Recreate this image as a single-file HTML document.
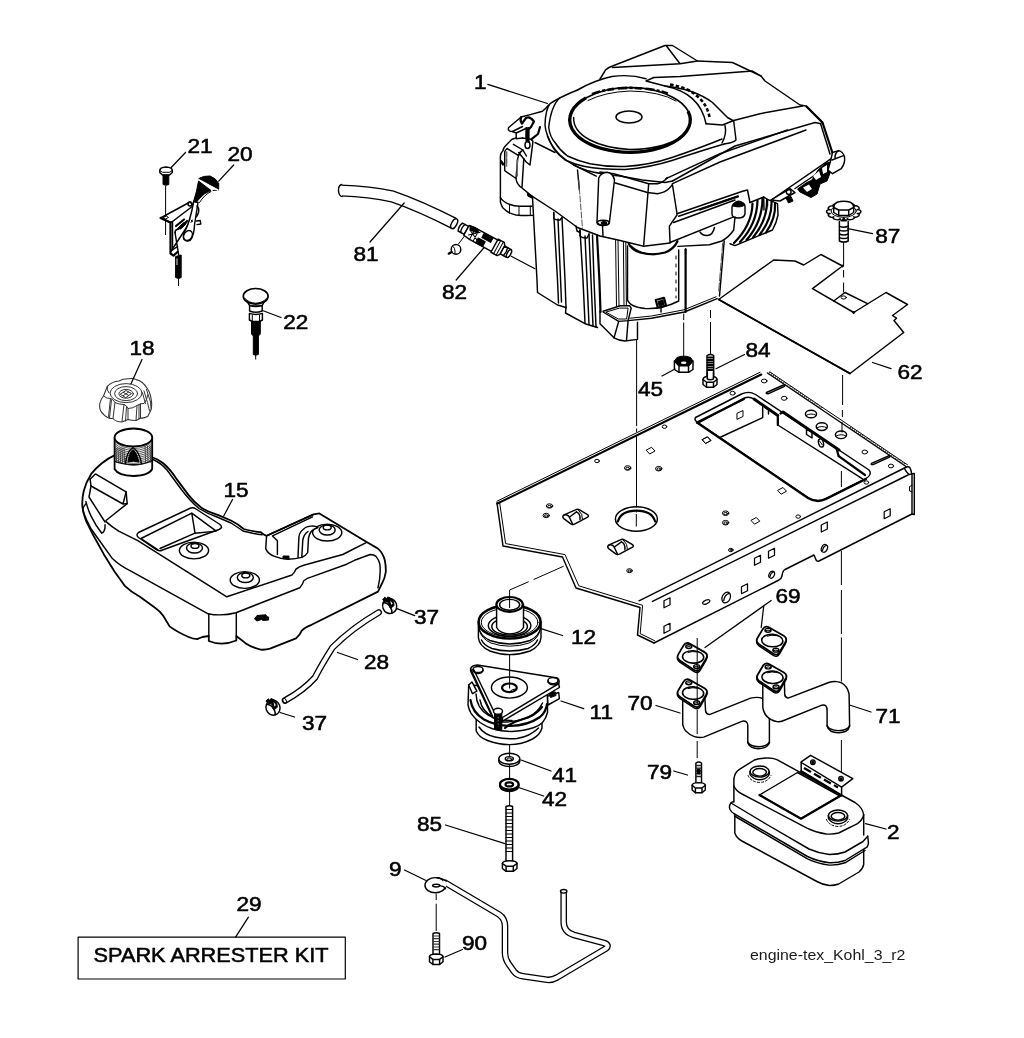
<!DOCTYPE html>
<html lang="en"><head><meta charset="utf-8"><title>Engine parts diagram</title>
<style>
html,body{margin:0;padding:0;background:#fff;}
body{width:1024px;height:1038px;overflow:hidden;font-family:"Liberation Sans",sans-serif;}
svg{display:block;}
.l{fill:none;stroke:#000;stroke-width:1.45;stroke-linejoin:round;stroke-linecap:round;}
.w{fill:#fff;stroke:#000;stroke-width:1.45;stroke-linejoin:round;stroke-linecap:round;}
.k{fill:#000;stroke:#000;stroke-width:1;stroke-linejoin:round;}
.t{stroke-width:2.2;}
.t2{stroke-width:2.9;}
.h{stroke-width:1;}
.d{stroke-dasharray:22 4 6 4;stroke-width:1.1;stroke-linecap:butt;}
.n{font-family:"Liberation Sans",sans-serif;font-size:20px;fill:#000;stroke:#000;stroke-width:0.55;}
</style></head><body>
<svg width="1024" height="1038" viewBox="0 0 1024 1038">
<rect x="0" y="0" width="1024" height="1038" fill="#fff"/>
<!-- 20_plate.svg -->
<g id="plate">
<!-- top face fill -->
<path class="w" style="stroke:none" d="M497 503L761.5 373.5L767.5 373L906.7 467.5L914 474V514L819 561L815 557L785 570L779 580L654 643L637.5 635L640 607.5L576 588L562.5 557L503 546Z"/>
<!-- top-left edge (double) -->
<path class="l t" d="M497.3 503.6L761.2 374.6"/>
<path class="l h" d="M497 501.2L760 372.3"/>
<!-- top-right edge (hatched double) -->
<path class="l" d="M767.5 373L906 466.5"/>
<path class="l h" d="M770 372L907.5 464.8"/>
<path class="l" style="stroke:#333;stroke-width:2;stroke-dasharray:1 1.5;stroke-linecap:butt" d="M769 372.3L822 408"/>
<path class="l" style="stroke:#333;stroke-width:2;stroke-dasharray:1 1.5;stroke-linecap:butt" d="M850 427L906 465"/>
<!-- left outline double -->
<path class="l" d="M497 503L503 546L562.5 557L576 588L640 607.5L637.5 635L654 643"/>
<path class="l h" d="M499.6 502.3L505.6 543.6L565 554.6L578.8 585.8L642.6 605.3L640.2 633.6L654.8 640.8"/>
<!-- front face top edges -->
<path class="l" d="M639 600.8L900.5 470L906.5 467"/>
<path class="l" d="M652.5 601.4L908 475"/>
<!-- front bottom edge -->
<path class="l" d="M654 643L779 580Q781.5 578.5 782 576Q782.5 571 785 569.5L814 555L815.5 558.5Q816.5 562 819 561L912 514"/>
<!-- right end -->
<path class="l" d="M906.5 467Q909.5 466 910.5 469L912 474.5M912 474V514M914.3 473.5V514.5L912 514M912 474L914.3 473.5M904.5 468.5Q906 472 909 474.5L912 474"/>
<path class="l h" d="M912 485.5L909.5 486.5V491L912 491.5"/>
<!-- cutout -->
<path class="w" d="M695.5 417.5Q694 420 697 422L808 497.5Q817 503 826 498.5L866 478.5Q872.5 474.5 869 470L755.5 394.5Q749 390.5 741.5 394Z"/>
<path class="l t" d="M697 422.5L808 498Q817 503.5 826 499L866 479"/>
<path class="l" d="M698 423L744.5 398Q749.5 396.2 754 399L777.8 415.5V425L862.6 478.8"/>
<path class="l" d="M762.7 405.8V417.6L720.8 437"/>
<path class="l t2" d="M754 399L777.8 415.5M783 412L839 450"/>
<path class="l t" d="M777.8 415.5V425M780.5 413.5L783 412"/>
<path class="l t" d="M838.7 456.2L865 475"/>
<path class="l t" d="M836.5 448.5L838.7 456.2"/>
<path class="l t" d="M697 422.5L744 399"/>
<!-- inner wall details -->
<path class="l h" d="M737.3 413.2L743 410.5V416.5L737.3 419.2Z"/>
<path class="l" d="M806.5 429L812 432.5V438L806.5 434.5Z"/>
<path class="l" d="M765 407.5L768.5 410V414"/>
<ellipse class="l" cx="821" cy="443" rx="2.4" ry="4.2" transform="rotate(-15 821 443)"/>
<path class="l h" d="M819.5 441L822.5 445"/>
<!-- slots -->
<path class="l" d="M766.5 392.5L783.5 385Q785.5 384.6 784.5 386.3L768 393.8Q765.5 394 766.5 392.5Z"/>
<path class="l" d="M871.5 463.3L888.5 455.8Q890.5 455.4 889.5 457.1L873 464.6Q870.5 464.8 871.5 463.3Z"/>
<!-- big round holes on right strip -->
<ellipse class="l" cx="811" cy="414" rx="5.6" ry="3.8"/>
<ellipse class="l" cx="821.8" cy="426.6" rx="5.6" ry="3.8"/>
<ellipse class="l" cx="841" cy="434.8" rx="5.6" ry="3.8"/>
<path class="l h" d="M806 415.5Q811 412.5 816 415.2M816.8 428Q821.8 425 826.8 427.8M836 436.2Q841 433.2 846 436"/>
<!-- main hole -->
<ellipse class="l" cx="636.4" cy="519" rx="21" ry="12.2"/>
<path class="l t" d="M617.8 521.5Q621 510.6 636.4 510.6Q652 510.6 655.2 521.5"/>
<!-- small round holes -->
<g class="l h">
<ellipse cx="597" cy="461" rx="2.3" ry="1.7"/>
<ellipse cx="627.7" cy="468" rx="3.2" ry="2.3"/><ellipse cx="627.7" cy="468.4" rx="1.8" ry="1.2"/>
<ellipse cx="658.7" cy="468.7" rx="3.2" ry="2.3"/><ellipse cx="658.7" cy="469.1" rx="1.8" ry="1.2"/>
<ellipse cx="664.5" cy="426.7" rx="2.3" ry="1.7"/>
<ellipse cx="549.5" cy="506" rx="3.2" ry="2.2"/><ellipse cx="549.5" cy="506.4" rx="1.8" ry="1.1"/>
<ellipse cx="546.2" cy="515.5" rx="3.2" ry="2.2"/><ellipse cx="546.2" cy="515.9" rx="1.8" ry="1.1"/>
<ellipse cx="725.6" cy="513.2" rx="3.2" ry="2.3"/><ellipse cx="725.6" cy="513.6" rx="1.8" ry="1.2"/>
<ellipse cx="725.6" cy="522.7" rx="3.2" ry="2.3"/><ellipse cx="725.6" cy="523.1" rx="1.8" ry="1.2"/>
<ellipse cx="730.8" cy="550" rx="2.3" ry="1.7"/>
<ellipse cx="732.6" cy="393.2" rx="2.6" ry="1.9"/>
<ellipse cx="629.5" cy="570.7" rx="2.8" ry="2"/><ellipse cx="629.5" cy="571" rx="1.5" ry="1"/>
<ellipse cx="798.2" cy="516.6" rx="2.3" ry="1.7"/>
<ellipse cx="866.4" cy="482.5" rx="2.3" ry="1.7"/>
<ellipse cx="764.2" cy="381" rx="2.8" ry="1.9"/>
<ellipse cx="784.2" cy="398.3" rx="2.8" ry="2"/>
<ellipse cx="864.8" cy="452" rx="2.8" ry="2"/>
<ellipse cx="891" cy="466" rx="2.6" ry="1.9"/>
<ellipse cx="731" cy="549.8" rx="1" ry="0.7"/>
</g>
<!-- diamond holes on top -->
<g class="l h">
<path d="M646.5 450L651.5 447.3L655 451L650 453.8Z"/>
<path d="M702.5 439.5L707.5 436.8L711 440.5L706 443.3Z"/>
<path d="M778 490.2L783 487.5L786.5 491.2L781.5 494Z"/>
<path d="M751.3 520.2L756.3 517.5L759.8 521.2L754.8 524Z"/>
<path d="M702.2 439.3L707.2 436.6L710.7 440.3L705.7 443.1Z" transform="translate(0.2 0.2)"/>
</g>
<!-- tabs -->
<g class="l">
<path d="M563.5 515.2 Q562.0 517.0 563.8 518.6 L570.8 523.8 Q572.8 525.0 575.0 523.8 L587.6 517.2 Q589.3 516.0 587.6 514.6 L579.5 509.8 Q577.5 508.8 575.5 509.8 Z"/><path d="M564.5 515.0Q567.0 514.0 569.0 516.5L572.8 524.5"/><path d="M569.5 517.0L576.5 511.8M576.5 511.8Q580.5 513.5 580.0 519.5"/><path class="h" d="M578.5 510.2Q583.0 514.0 582.5 519.0"/>
<path d="M608.4 545.2 Q606.9 547.0 608.7 548.6 L615.7 553.8 Q617.7 555.0 619.9 553.8 L632.5 547.2 Q634.2 546.0 632.5 544.6 L624.4 539.8 Q622.4 538.8 620.4 539.8 Z"/><path d="M609.4 545.0Q611.9 544.0 613.9 546.5L617.7 554.5"/><path d="M614.4 547.0L621.4 541.8M621.4 541.8Q625.4 543.5 624.9 549.5"/><path class="h" d="M623.4 540.2Q627.9 544.0 627.4 549.0"/>
</g>
<!-- front face squares / ovals -->
<g class="l" style="stroke-width:1.25">
<path d="M664 600.8L670 597.8V604.8L664 607.8Z"/>
<path d="M664 626.3L670 623.3V630.3L664 633.3Z"/>
<path d="M741.5 586.8L747.5 583.8V590.8L741.5 593.8Z"/>
<path d="M754.5 558.3L760.5 555.3V562.3L754.5 565.3Z"/>
<path d="M768.5 551.3L774.5 548.3V555.3L768.5 558.3Z"/>
<path d="M821.3 525L827.3 522V529L821.3 532Z"/>
<path d="M884.2 511.7L890.2 508.7V515.7L884.2 518.7Z"/>
<path d="M702.5 603.2Q702.8 601.5 706 600.2Q709.5 599 710 600.8Q709.8 602.5 706.5 603.8Q703 605 702.5 603.2Z"/>
<ellipse cx="726.2" cy="597.5" rx="4" ry="5.6" transform="rotate(25 726.2 597.5)"/>
<path d="M723.8 600.5Q724.5 594.5 729.3 593.3"/>
<ellipse cx="771.7" cy="574.7" rx="2.6" ry="3.7" transform="rotate(25 771.7 574.7)"/>
<ellipse cx="824.4" cy="548.4" rx="2.9" ry="4" transform="rotate(25 824.4 548.4)"/>
<path d="M770 576.5Q770.8 572.5 773.8 571.8M822.6 550.4Q823.2 546.2 826.6 545.4"/>
</g>
</g>

<!-- 30_engine.svg -->
<g id="engine">
<!-- silhouette fill -->
<path class="w" style="stroke:none" d="M500 157L508 128L530 114L548 104L600 79L606 69L665 45.5H673L698 61L732 62.5L761 76L800 105L806 106L822.5 122.5L832.5 152L840 150L845 157L844 165L833 174L779 205L778 216L772 231L736 246L724 241.5L719.5 296L717 299L685 312.5L637.5 322V339.4L625 341L614 337.8L600 323.7L598 327L566 307L537.5 292.5L532 215L518 215.5L506 211L500.6 202.5Z"/>
<!-- blower housing top bump -->
<path class="l" d="M600 79L605.5 70Q608 67.5 612.5 66L665 45.5H672.5L697.5 61L732.5 62.5L761 76L765 81L800 105L806 106L822.5 122.5"/>
<path class="l" d="M612.5 67.5L680 63.7L697.5 61M666.5 46L680 63.7"/>
<path class="l" d="M653.7 77.5L680 76.5L752.5 71L761 76"/>
<!-- right end thick edge -->
<path class="l t" d="M806.5 106.5L822.5 122.5L832.5 153"/>
<path class="l" d="M820.5 123.5L830 154"/>
<!-- scoop -->
<path class="l" d="M646 81L653.7 77.5M646 81L665 86Q680 88 690 91Q704 96 712.5 102.5L727.5 117.5L733.7 121L736 140Q733 143 725 143.7"/>
<path class="l" d="M706 123.7L722.5 125L733.7 120.5L760 113.7L802.5 106"/>
<path class="l" d="M725 125.5Q727 134 722 143"/>
<path class="l" d="M665 86Q700 93 706 123.7"/>
<path class="l" style="stroke-width:2.6;stroke-dasharray:3.5 2.2;stroke-linecap:butt" d="M670 84.5Q689 88 697 96Q707 104 709.5 117"/>
<!-- air cleaner cover outer -->
<path class="l" d="M577.5 90Q560 97 550 103.7Q545.5 109 545 125Q545.5 134 553.7 148.7Q558 155 565 160Q575 164.5 583.7 166.2Q600 169.5 625 169.5Q650 167.5 672 160.5Q700 151 725 143.7"/>
<path class="l" d="M646 78.7Q630 74 612 76.5Q595 80 577.5 90"/>
<path class="l" d="M560 97.5Q551 106 548.7 127.5Q550 137 555 142.5Q560 150.5 567.5 156Q578 161 590 163.7Q607 167 625 166.5Q650 165 672 157.5Q700 148 722 139"/>
<!-- thick ring -->
<ellipse class="l" style="stroke-width:1.7" cx="630" cy="120" rx="60.3" ry="32.3"/>
<path class="l" style="stroke-width:3.3;stroke-linecap:butt" d="M586 97.9A60.3 32.3 0 1 0 688 111.2"/>
<path class="l h" d="M588 100.5Q605 92 630 91Q660 91.5 676 101"/>
<path class="l" d="M573.7 117.5Q573 131 590 140Q605 148 630 149.5Q660 149.5 680 138"/>
<path class="l" d="M592 94.2Q606 88.6 628 87.8Q652 88 668 93.5" style="stroke-width:2.6;stroke-dasharray:9 2 3 2 7 4;stroke-linecap:butt"/>
<ellipse class="l" cx="629" cy="117" rx="13" ry="6"/>
<!-- lower lip -->
<path class="l" d="M547.5 136.2Q551 146 560 155Q572 166 587 170.5Q600 174 620 176L642.5 180L665 182.5L672.5 181"/>
<!-- right shroud top edges -->
<path class="l" d="M672.5 181L735 146L815 122.5L821 123.7"/>
<path class="l" d="M666 178.7L720 153.7L787.5 130"/>
<path class="l" d="M672.5 183.7L720 162L806 130"/>
<!-- shroud corner -->
<path class="l" d="M600 172L613.7 173.7L648.7 183.7H657.5Q664 182 667.5 177.5"/>
<path class="l" d="M613.7 182.5L647.5 192.5L657.5 193.7Q665 192.5 669 188.5Q672.5 185 672.5 183.7"/>
<path class="l" d="M648.7 183.7L643.7 245M672.5 185L677 213.7"/>
<!-- valve cover panel -->
<path class="l" d="M677 213.7L742.5 191.2L747.5 190L750 202.5M669.4 226.2L677 215M669.4 226.2L670 242.5L733.7 216.9"/>
<path class="l" d="M673.7 222.5L735 200M678.7 216.2L737.5 196.2"/>
<path class="l t" d="M700 209.5L738 196.5"/>
<!-- boot -->
<path class="w" d="M732 207.5Q732 203 738 202.5Q745 202 745 206.5V214Q744 218 738.5 218Q732 218 732 214Z"/>
<path class="k" d="M733 206Q733.5 201.5 738.5 201Q744 201.5 744 205.5Q740 208 733 206Z"/>
<!-- below panel -->
<path class="l" d="M678 246.4L709.4 244.8L721.9 241Q729 237 733.7 230L735 217"/>
<path class="l" d="M700 232Q703 236 707.5 235.5Q713 235 714.4 227.5"/>
<!-- fins -->
<path class="l" d="M750 202.5L763.7 197L767.5 199.4L777.5 203.7L778 215Q776.5 223 772.5 230L735 245.6L730 243.7"/>
<g class="l t">
<path d="M752.5 203.5Q752 225 734 243"/>
<path d="M757.5 200.5Q757 224 740 242"/>
<path d="M762.5 198Q762.5 222 746.5 240"/>
<path d="M767 200Q767.5 220 753 237.5"/>
<path d="M771.5 202Q772 219 759.5 235"/>
<path d="M775 203.5Q776 218 766 232.5"/>
</g>
<path class="l" d="M763.7 197L764 210M767.5 199.4V206"/>
<!-- lever / linkage -->
<path class="l" d="M771 200L790 188.7L795 192.5L780 201Z"/>
<circle class="l" cx="788.7" cy="192" r="2.4"/>
<path class="l" d="M771.2 200L831.2 158.7"/>
<path class="l" d="M795 188.5L815 175L826 166"/>
<path class="k" d="M797.5 189L806 183L812 180L818 170L826 163L832 162L830.5 172L827 181L820 184L817 194L811 197.5L804 194L800 192Z"/>
<path d="M803 187.5L809 184.5L812 189L807 192Z M813 176L819 171L821 177L816 180Z M822 168L827 165L827 172L823 174Z" fill="#fff"/>
<path class="k" d="M786 198L791 196.5L793 201L788.5 203Z"/>
<!-- cylinder end -->
<path class="w" d="M832.5 152.5L838.7 150.6Q843 151.5 844.5 157Q845.5 163 841.2 168.7L832.5 173.7L828 170Q831 160 832.5 152.5Z"/>
<path class="l" d="M832 160L843.5 155.6M838.7 150.6Q834.5 153 835 159"/>
<!-- left latch -->
<path class="l" d="M548.7 105Q545 109.5 542.5 111.2L531.2 114.4L521.2 117L508.7 127.5Q507.5 130 510 131.2L512.5 131.5L522.5 126.5"/>
<path class="l t" d="M521.2 117Q519.5 120 522 123.5L526 118Q530 116 534 121.5L531 127L527 131L526.5 138"/>
<path class="l" d="M516.2 133V138.7L522.5 138M512.5 131.5L516.2 133L527 128"/>
<path class="l" d="M522.5 138L531.2 139.4L533 141.2L530 165L526.2 162L518.7 152.5"/>
<path class="l t" d="M526.5 128V140L528.5 141.5V128M531.2 139.4L538 134L540 127"/>
<path class="l" d="M535 142.5L555 152.5"/>
<ellipse class="l" cx="527.5" cy="145" rx="2.5" ry="3.5"/>
<!-- left body / ear -->
<path class="l" d="M516 137.8L511.7 139.5L506.5 144.7Q503 148 503 150.8Q500.4 153 500.4 156V202Q501.5 206 503 208Q509 214 516 215Q524 215.8 532.5 215.4"/>
<path class="l" d="M513.4 144.3L522.9 150Q520 151.5 518.6 155.6L507.3 148.6"/>
<path class="l" d="M518.6 155.6L517.7 158.6L516 178.5L504.7 170.7V151.7Q505.5 149.5 507.3 148.6"/>
<path class="l" d="M522.9 150L526.4 156M523.8 158.6L522 187.2"/>
<path class="l" d="M516 178.5Q516.5 182 517.7 183.7Q519.5 186.5 522 188L531.6 195.9"/>
<path class="l h" style="stroke:#666;stroke-width:1.6;stroke-dasharray:5 1.5" d="M506.6 152V166M517.2 160V176"/>
<path class="k" d="M501.5 160.5L504 164L503 165.5L501 163Z"/>
<path class="l" d="M500.4 197.6Q503 202 510 204.5Q514 206 519.5 206.3H532"/>
<path class="l h" d="M509.5 204.3V213.3M519 206.3V215.3M530.3 206V215.4"/>
<path class="k" d="M527.3 193.3L532.5 196.2V198.4L527.8 196Z"/>
<!-- shroud bottom edge left -->
<path class="l" d="M531.6 195.9L555 211L577.5 227.5L600 236L618 240L643.7 246.2L670 243"/>
<path class="l" d="M573.7 165L596.2 176.2M577.5 170L579.4 190"/>
<!-- body left edge and columns -->
<path class="l" d="M532.5 197.5L537 280L537.5 292.5L557.5 305L566 307.5"/>
<path class="l" d="M553.7 212.5L557.5 280L558.5 303M558 219L561.5 302M562 217.5L565 280L566 307.5"/>
<path class="l" d="M553.7 212.5V218.5Q556 220.5 560 220L562 217.5"/>
<path class="l" d="M566 307.5L565.5 313L585 323.7L597.5 327.5"/>
<path class="l" d="M580 230L583 280L585 323M585 236L587 280L589 324.5M589 234L591 280L593 326M592.5 235L594 280L596 327"/>
<path class="l t" d="M597 235L599.4 280L600.5 312"/>
<path class="l" d="M580 230V236Q583 238.5 587 238L589 234M576 226L577 231L580 232.5"/>
<path class="l" d="M602.5 226L603 236"/>
<path class="l h" style="stroke:#555;stroke-dasharray:6 2" d="M578.7 180L582.5 228.7"/>
<!-- dipstick -->
<path class="w" d="M598.7 178L597 222.5Q599 225.5 603 225.5Q608 225.5 609.4 222.5L614.5 180Q613 173 607 172.2Q601 172.5 598.7 178Z"/>
<ellipse class="l" cx="603.2" cy="222.8" rx="6" ry="2.6"/>
<ellipse class="k" cx="604" cy="223" rx="3" ry="1.5"/>
<!-- starter motor cylinder -->
<path class="l" d="M627.5 246V300Q630 307 645 308.5Q662 309.5 678.7 301V250"/>
<path class="l t" d="M628.7 243.7Q632 250 640 252.5Q652 256 665 252.5Q674 249 677.5 241.2"/>
<path class="l" d="M631 246Q640 254.5 655 254.5"/>
<path class="l h" style="stroke-dasharray:3 5" d="M676 256V298"/>
<path class="l t" d="M685.6 249.5V312"/><path class="l" d="M724.2 241L719.5 296"/>
<path class="l h" style="stroke:#555;stroke-dasharray:8 2" d="M722.7 243L718.6 292"/>
<path class="l" d="M685.6 248.7V254"/>
<!-- bolt on starter -->
<path class="l t" d="M655.8 300L664 297.8L666 305.5L657.8 307.8Z"/><path class="k" d="M658 301.5L663 300L664.2 304.5L659.2 306Z"/><path class="l" d="M661 307.5V312"/>
<!-- base -->
<path class="l" d="M603.1 311.2L620.3 305.8H629.7L631.2 308.1L628.1 320.6L618.7 321.4L603.1 312Z"/>
<path class="l h" d="M606.2 312L619.5 308.1H628.1L626.6 319L618.7 319Z"/>
<path class="l" d="M600 311V323.7L614 337.8Q619 340.5 625 341L637.5 339.4V322.2"/>
<path class="l" d="M628.1 320.6L626.5 340.5M618.7 321.4L614 337.8"/>
<path class="l" d="M628.1 320.6L651.5 318.3L684.4 312L717.2 298.7"/>
<path class="l h" d="M630 318.2L651.5 316L684 309.8L716 296.8"/>
<path class="l h" d="M615.6 240L616.5 306M618 240.5L619 306M623.4 242L624 305.5M625.8 242.5L626.4 305.5"/>
</g>

<!-- 40_small_top.svg -->
<g id="plate62">
<path class="w" d="M718.7 299.5L773.7 260L795 261L803.7 265L821 254.5L842.5 266L812.5 288.7L853.7 312.5L886 292.5L907.5 304.5L892.5 315.5L896.5 318.2L894 320.5L903.7 332.5L850 373.5Z"/>
<path class="l" style="stroke-width:1.7" d="M718.7 299.5L850 373.5"/>
<path class="l" d="M833.7 301L845 292.5L867.5 303.7"/>
<ellipse class="l h" cx="843.7" cy="297.5" rx="2.6" ry="1.6"/>
<circle class="k" cx="853.7" cy="312.5" r="1"/>
<circle class="k" cx="842.5" cy="266" r="1"/>
</g>
<g id="knob87">
<path class="w" d="M857.2 213.5C862.1 214.2 857.2 218.6 853.6 216.8C857.2 218.6 848.7 221.2 847.3 218.6C848.7 221.2 838.8 221.2 840.1 218.7C838.8 221.2 830.3 218.7 833.9 216.8C830.3 218.7 825.3 214.2 830.2 213.5C825.3 214.2 825.3 209.0 830.2 209.7C825.3 209.0 830.2 204.6 833.8 206.4C830.2 204.6 838.7 202.0 840.1 204.6C838.7 202.0 848.6 202.0 847.3 204.5C848.6 202.0 857.1 204.5 853.5 206.4C857.1 204.5 862.1 209.0 857.2 209.7C862.1 209.0 862.1 214.2 857.2 213.5Z"/>
<ellipse class="l h" cx="843.7" cy="211" rx="12.6" ry="6.3"/>
<path class="w" d="M833.7 208Q833.7 204 837 202.3Q843.7 200 850.5 202.3Q853.7 204 853.7 208V212.5L848.7 215.5H838.7L833.7 212.5Z"/>
<path class="l" d="M833.7 207.5L838.7 210H848.7L853.7 207.5M838.7 210V215.5M848.7 210V215.5"/>
<path class="k" d="M841 221.5L843.7 217.5L846.5 221.5Z"/>
<path class="w" d="M839.4 221.5V241Q843.7 243.2 848.2 241V221.5"/>
<path class="l" d="M839.4 226.3Q843.7 228 848.2 226.3M839.4 230.2Q843.7 232 848.2 230.2M839.4 234Q843.7 235.8 848.2 234M839.4 237.7Q843.7 239.5 848.2 237.7"/>
</g>
<g id="nut45">
<path class="w" d="M674.4 361V369.5L679 372.3H688.5L693 369.5V361"/>
<path class="l" d="M679 365.5V372.3M688.5 365.5V372.3"/>
<path class="k" d="M674.4 361L677 357.5L681 356.3H686.5L690.5 357.5L693 361L690.5 364.5L688.5 366H679L677 364.5Z"/>
<ellipse cx="683.7" cy="362.8" rx="2.8" ry="1.2" fill="#fff"/>
</g>
<g id="bolt84">
<path class="w" d="M707 355.5Q710.4 353.5 713.7 355.5V377H707Z"/>
<path class="l t" style="stroke-width:1.8" d="M707.5 357.5H713.2M707.5 360H713.2M707.5 362.5H713.2M707.5 365H713.2M707.5 367.5H713.2M707.5 370H713.2"/>
<path class="w" d="M703 379.5Q703 376.5 710 376.3Q717 376.5 717 379.5V384.5L713.5 387.3H706.5L703 384.5Z"/>
<path class="l" d="M703 379.5L706.5 382.3H713.5L717 379.5M706.5 382.3V387.3M713.5 382.3V387.3"/>
<path class="w" d="M707.3 372V379Q710.4 380.3 713.4 379V372"/>
</g>

<!-- 41_hose_valve.svg -->
<g id="hose81">
<path d="M341 190.5Q370 191.5 392.5 196.5Q420 206 453.7 223.3" fill="none" stroke="#000" stroke-width="12.2" stroke-linecap="butt"/>
<path d="M340.5 190.5Q370 191.5 392.5 196.5Q420 206 454.3 223.6" fill="none" stroke="#fff" stroke-width="9.6" stroke-linecap="butt"/>
<path class="w" d="M341.5 184.5Q338 186 338.5 191Q339 196 342 196.6"/>
<ellipse class="w" cx="454.2" cy="223.7" rx="2.6" ry="5.4" transform="rotate(28 454.2 223.7)"/>
</g>
<g id="valve82" transform="translate(462 228) rotate(28.5)">
<path class="w" d="M-2 -4.5H5V4.5H-2Q-4 0 -2 -4.5Z"/>
<path class="l" d="M1 -4.5Q-1 0 1 4.5"/>
<path class="w" d="M5 -5.5L12 -6.5H38V6.5H12L5 5.5Z"/>
<path class="k" d="M6 -6L14 -6.5L16 -3L8 -2Z"/>
<path class="k" d="M22 -6H32V-1H22Z M19 1H27V6.5H19Z"/>
<path class="l h" d="M8 -2L20 4M9 3L18 -5M12 -6.5V6.5M16 -6V6"/>
<path class="w" d="M37 -7.5H44L46 -5V5L44 7.5H37Z"/>
<path class="l h" d="M40 -7.5V7.5M43 -7.5V7.5"/>
<path class="w" d="M46 -4.5H53Q55 0 53 4.5H46Z"/>
<ellipse class="w" cx="53.5" cy="0" rx="1.8" ry="4.3"/>
<path class="l" d="M49.5 -4.5Q51 0 49.5 4.5"/>
</g>
<g id="clip82">
<path class="l h" d="M464.4 236.2L458.7 243.7"/>
<circle class="w" cx="456" cy="249.4" r="4.8"/>
<path class="l h" d="M452.5 246Q455.5 247.5 455 253.5"/>
<path class="l t" d="M451.5 252L448.7 253.7"/>
</g>
<path class="l" style="stroke-width:1.25" d="M511.2 256.2L535 268.7"/>

<!-- 42_left_small.svg -->
<g id="bolt21">
<path class="w" d="M159.8 170.5Q159.8 167.3 166 167Q172.3 167.3 172.3 170.5V172.5L169.5 175H162.5L159.8 172.5Z"/>
<path class="l h" d="M159.8 170.5L162.5 172.3H169.5L172.3 170.5"/>
<path class="k" d="M163 175H168.8V184.5Q166 186 163 184.5Z"/>
</g>
<g id="lever20">
<!-- bracket -->
<path class="w" d="M160.6 218L190 202L193.5 205.5L172.5 221.5L170.5 222.5Z"/>
<path class="l t" d="M160.6 218L170.5 222.5V253.5L173.5 255.6L177.5 252"/>
<path class="l" d="M172.5 221.5V250L177.5 246.5"/>
<path class="l h" d="M163.5 217.5L166.5 216L168.5 217.5L165.5 219Z"/>
<ellipse class="l" cx="190" cy="204" rx="2" ry="2"/>
<path class="l" d="M175 232.5L178.7 255M170.5 252L196 213"/>
<path class="l t" d="M176 226L184 219.5M178 229Q184 226 187 221"/>
<path class="k" d="M178.5 227.5Q183 222 186.5 221.5Q185 226 180.5 229Z"/>
<path class="l" d="M175.3 232.8Q174.5 230.5 177 229.5"/>
<!-- lever -->
<path class="w" d="M193.7 201.5L198 202.5Q196 215 194.5 225Q194 236 190.5 240Q187 242 184 239.5Q182.5 236 184.5 232Q190 222 193.7 201.5Z"/>
<ellipse class="w" cx="188" cy="235.5" rx="4" ry="5.2" transform="rotate(30 188 235.5)"/>
<path class="l h" d="M191 220L192.5 221.5M191 222.5L192.5 220"/>
<path class="l" d="M197 206Q199.5 208 198.5 212.5Q197.5 216 196 217"/>
<path class="l" d="M196.5 221L200.3 220.5L200.8 224L197 224.6"/>
<!-- knob -->
<path class="k" d="M198.7 178.7Q203 175.5 210 176Q216 178 218.7 183.5L218.7 189.4Z"/>
<path class="k" d="M198.5 181L211 190.5Q204 193 200 198L196.5 202L193.7 201Q197 191 198.5 181Z"/>
<path class="l h" d="M211 191.5Q204 195 199.5 202.5M213 190.5L218.5 190"/>
<path d="M198.6 179.6L218.4 190.4" stroke="#fff" stroke-width="1.6" fill="none"/>
<!-- threaded pin -->
<path class="k" d="M175.6 256.5L181.2 255V277.5Q178.5 279.5 175.6 277.5Z"/>
<path d="M177 258.5V265" stroke="#fff" stroke-width="0.9"/>
<path class="l h" d="M178.5 278.7V285.6"/>
</g>
<g id="pull22">
<path class="w" d="M246.5 300.5L250 306H262L265 300.5"/>
<ellipse class="w t" cx="255.7" cy="296.3" rx="12.4" ry="7.8" style="stroke-width:1.7"/>
<path class="l h" d="M245 298.5Q249 303 255.7 303.2Q262.5 303 266.5 298.5"/>
<path class="w" d="M249.6 305.5V311Q255.7 313.5 262.2 311V305.5Q255.7 307.5 249.6 305.5Z"/>
<path class="w" d="M249.4 313.4Q255.7 315.4 262.4 313.4V320L259.5 321.5H252.3L249.4 320Z"/>
<path class="l h" d="M252.3 315V321.5M259.5 315V321.5"/>
<path class="k" d="M251.5 321.5H260.3V334L258.4 336V354.5L255.7 355.2L253.3 354.5V336L251.5 334Z"/>
</g>

<!-- 43_cap18.svg -->
<g id="cap18" style="stroke:#333">
<path class="w" style="stroke:#333;stroke-width:1.1" d="M99.6 406.6Q99.5 401 103.5 396L107.3 386.4Q112 381.5 119 381Q123 378.5 128.6 378.7Q133 378 136.3 379.6Q143 381 147.8 389.3Q151 394 151.7 403.7Q152 409 150 412L147.8 416.3Q144 418.5 140.5 418L136 420.5Q131 420.5 128 419.5L121.8 422Q116 422 113 418.5Q108 419 103.5 414.3Q100 411.5 99.6 406.6Z"/>
<g class="l h" style="stroke:#333">
<ellipse cx="126.1" cy="393.1" rx="16" ry="9.5"/>
<ellipse cx="126.1" cy="393.6" rx="11.5" ry="7"/>
<ellipse cx="126.1" cy="393.8" rx="7.2" ry="4.4"/>
<path d="M120.5 394L126 390.5L131.5 393.5L126 397.5Z M123.2 392.2L128.7 395.5M128.7 392L123.2 395.7"/>
<path d="M103.5 396Q107 399 110.5 398.5Q113 399 115 402.5Q119 404.5 124 404.5Q127 405.5 128 408.5Q133 408.5 137 405.5Q141 403 144 403.5Q147 400 147.8 395"/>
<path d="M110.5 398.5L108.5 416.5M115 402.5L113 418.5M111.5 400L109.5 417.5M128 408.5V419.5M124 404.5L122 421.5M126.5 407L125.5 421M137 405.5L136 420.5M140.5 404V418M139 404.5V419"/>
<path d="M144 391L147.5 402.5L149.5 411M146.5 389.5L150.5 402L151 408M142.5 393L145.5 403.5"/>
<path d="M107.3 386.4Q106.5 390 109 393"/>
</g>
</g>

<!-- 44_tank15.svg -->
<g id="tank15">
<!-- silhouette -->
<path class="w" style="stroke-width:1.8" d="M115.5 454.8Q108 458 101.8 463.3Q96 468 91.2 473.9Q86 482 83.8 490.8Q82 498 82.3 505.7Q83 513 85.9 520.5L93.3 535.3L103.9 554.4L114.5 571.4L125.1 586.2Q131 592 139.9 596.8L154.7 607.4Q160 611 163.2 615.8L169.6 626.4Q177 632 188.6 637Q193 639 197.1 639.2L202.4 637L208.8 636V641Q222 646.5 236.3 640.5V636L245.8 643.4Q252 647.5 260.7 649.7Q266 650 270 648.7L296 638.4Q300 635 301.8 630.6Q305 627 311.6 624.8L378 591.6L381.9 583.7Q385 578 385.8 572Q386 566 384.8 560.3Q383 553 378 548.6L366.2 541.8L319.4 513.4L313.5 514.4L270.5 534L266.6 535.9Q264 535 260.7 532.2Q252 531.5 243.7 529Q238 524 231 520.5L218.3 515.2Q208 512 201.4 507.8Q194 502 188.6 495.1L175.9 478.1Q170 469 163.2 463.3Q158 459 151.6 457Z"/>
<!-- rear edge second line -->
<path class="l" d="M153 459.5Q161 463 167 470L181 489Q190 501 199 508.5Q207 513.5 217 517L231 523Q238 527.5 243 531Q252 533.5 262 534.8"/>
<!-- neck -->
<path class="w" style="stroke-width:1.8" d="M114.6 437.5V469Q118 475.5 133.4 476Q149 475.5 152.2 469V437.5"/>
<ellipse class="w" style="stroke-width:1.8" cx="133.4" cy="437.5" rx="18.8" ry="9"/>
<path class="l" d="M114.6 461.2Q122 464.5 133.4 464.7Q146 464.3 152.2 460.5"/>
<g class="l h" style="stroke:#222;stroke-width:0.75">
<path d="M114.6 441.50Q122 448.50 133.4 448.50Q146 448.50 152.2 441.50M114.6 443.35Q122 450.35 133.4 450.35Q146 450.35 152.2 443.35M114.6 445.20Q122 452.20 133.4 452.20Q146 452.20 152.2 445.20M114.6 447.05Q122 454.05 133.4 454.05Q146 454.05 152.2 447.05M114.6 448.90Q122 455.90 133.4 455.90Q146 455.90 152.2 448.90M114.6 450.75Q122 457.75 133.4 457.75Q146 457.75 152.2 450.75M114.6 452.60Q122 459.60 133.4 459.60Q146 459.60 152.2 452.60M114.6 454.45Q122 461.45 133.4 461.45Q146 461.45 152.2 454.45M114.6 456.30Q122 463.30 133.4 463.30Q146 463.30 152.2 456.30M114.6 458.15Q122 465.15 133.4 465.15Q146 465.15 152.2 458.15"/>
<path d="M116.0 448.0L116.6 462.5M118.0 448.0L118.6 462.5M120.0 448.0L120.6 462.5M122.0 448.0L122.6 462.5M124.0 448.0L124.6 462.5M145.0 446.0L145.6 462.5M147.5 446.0L148.1 462.5M150.0 446.0L150.6 462.5"/>
</g>
<path class="k" d="M128 462Q129 453 133 449.5Q137 453 139 462Q133 460 128 462Z"/>
<path class="l" d="M125.5 463.5Q126.5 452 133 447.5Q139.5 452 141.5 463.5"/>
<!-- handle recess left -->
<path class="l" d="M90.1 479.2L95.4 473.9L126.1 491.9L127.2 503.6L106 520.5"/>
<path class="l" d="M90.1 479.2L91 486L123 504L127.2 503.6M123 504L126.1 491.9"/>
<path class="l" d="M85.9 501.4Q88 510 91.2 516.3Q96 526 101.8 533.2Q105.5 531 105 524.7"/>
<path class="l" d="M91 486L89 497L105 522"/>
<!-- top face front edge -->
<path class="l" d="M106 521.6Q112 527 118.7 531.1L137.8 540.6L226.8 596.8L292 575Q295 572 296 569.1Q299 566.5 303.7 565.2L342.8 554.5L350.6 550.5L366.2 542.7"/>
<!-- lower body line (side top) -->
<path class="l" d="M85.9 503.6Q83 507 82.7 510Q86 520 91.2 529L112.4 558.6Q120 566 131.4 571.4L207.7 613.7Q222 616.5 236 612.7L299.8 587.7Q303 584 303.7 580.8Q307 578 311.6 576.9L346.7 564.2L354.5 560.3L370.2 554.5Q374 554.5 376 556.4Q379 560 379.9 564.2Q381 576 378 587.7"/>
<path class="l" d="M208.8 613.7V636M236.3 612.7V636"/>
<!-- cup recess -->
<path class="l" d="M138.5 532.5Q135.5 535 138.5 537.5L156 549.5Q159 551.8 162.5 550L219 529.5Q223.5 527.5 220 524.5L196 509Q193 506.8 189.5 508.5Z"/>
<path class="l" d="M141 538.5L191.8 513.1L216.2 531.1M191.8 513.1L195 533.2L216.2 531.1M195 533.2L160 548.5M141 538.5L158 549.8"/>
<!-- bosses -->
<g class="l">
<ellipse cx="194" cy="550.5" rx="14.6" ry="8.4"/><ellipse cx="194.5" cy="548" rx="8" ry="5"/><ellipse cx="195" cy="546" rx="4" ry="2.4"/>
<ellipse cx="244.8" cy="580" rx="14.6" ry="8.4"/><ellipse cx="245.3" cy="577.5" rx="8" ry="5"/><ellipse cx="245.8" cy="575.5" rx="4" ry="2.4"/>
<ellipse cx="327.2" cy="532.6" rx="14.6" ry="8.4"/><ellipse cx="327.2" cy="530" rx="8" ry="5"/><ellipse cx="327.2" cy="527.5" rx="4" ry="2.4"/>
</g>
<!-- bracket recess right -->
<path class="w" d="M266.6 535.9L265.7 548.6Q268 554 274.5 556.4Q281 559 288.1 559.3Q296 559 301.8 557.4Q306 555.5 307.7 552.5L308.5 538Q310 531 314.5 529L318 527.5Q315 525.5 310.6 526.1Q305 527 303.7 529Q299.5 532 298.9 536.9L298 557M266.6 535.9L270.5 534"/>
<path class="l" d="M272.5 535.9L312.5 516.8M272.5 535.9L277.4 540.8V554.5M270.5 534L313.5 514.4"/>
<path class="l" d="M301.8 557.4L302.8 540Q304 534 308 531.5"/>
<path class="k" d="M283 556H289V558.8H283Z"/>
<!-- logo -->
<path class="k" d="M254.5 619L257 615.5L266 614.8L266.5 616.5L268.6 617V620L263 620.5L261.5 619.5L257 621Z"/>
</g>

<!-- 50_drive.svg -->
<g id="hose28">
<path d="M378.7 612.5Q352 628 332.5 647.5Q322 664 315 677.5Q304 690 285 700.5" fill="none" stroke="#000" stroke-width="6.6" stroke-linecap="round"/>
<path d="M378.7 612.5Q352 628 332.5 647.5Q322 664 315 677.5Q304 690 285 700.5" fill="none" stroke="#fff" stroke-width="4" stroke-linecap="round"/>
<ellipse class="l h" cx="284.6" cy="700.7" rx="1.6" ry="2.6" transform="rotate(-30 284.6 700.7)"/>
</g>
<g id="clamps37">
<ellipse class="w" cx="389.7" cy="606.0" rx="7" ry="7.6" transform="rotate(-20 389.7 606.0)"/><path class="l" d="M383.2 603.0Q386.5 602.0 390.0 606.5Q392.5 610.5 391.8 613.0"/><path class="k" d="M382.6 599.6L384.8 597.2L386.8 599.0L387.6 597.0L390.5 598.0L393.6 601.5L394.0 605.5L392.0 607.5L389.8 607.5L388.3 602.2L385.0 601.8Z"/><path d="M390.3 600.5L392.6 603.5L391.2 604.8Z" fill="#fff"/>
<ellipse class="w" cx="273.0" cy="707.6" rx="7" ry="7.6" transform="rotate(-20 273.0 707.6)"/><path class="l" d="M266.5 704.6Q269.8 703.6 273.3 708.1Q275.8 712.1 275.1 714.6"/><path class="k" d="M265.9 701.2L268.1 698.8L270.1 700.6L270.9 698.6L273.8 699.6L276.9 703.1L277.3 707.1L275.3 709.1L273.1 709.1L271.6 703.8L268.3 703.4Z"/><path d="M273.6 702.1L275.9 705.1L274.5 706.4Z" fill="#fff"/>
</g>
<g id="pulley12">
<!-- lower flange -->
<path class="w" d="M478.4 622V637.5Q479 646 490 651Q500 654.6 509.6 654.6Q520 654.6 530 651Q540.5 646 541 637.5V622"/>
<path class="l" d="M481.5 640Q484 645.5 492 648.5Q500 651 509.6 651Q520 651 528 648.5Q535 645.5 537.5 640"/>
<!-- upper flange -->
<path class="l" d="M478.6 627Q480 636 490 640.5Q500 644 509.6 644Q520 644 530 640.5Q539.5 636 540.8 627"/>
<path class="l h" d="M479.5 631Q482 639 491 643Q500 646.2 509.6 646.2Q520 646.2 529 643Q538 639 539.8 631"/>
<ellipse class="w" style="stroke-width:2.6" cx="509.6" cy="621.9" rx="31" ry="16.6"/>
<ellipse class="l h" cx="509.6" cy="622.3" rx="28.3" ry="14.4"/>
<ellipse class="l" cx="509.6" cy="625.6" rx="21.3" ry="10.6"/>
<ellipse class="l" cx="509.6" cy="626.5" rx="17.8" ry="8.6"/>
<!-- hub -->
<path class="w" d="M496.6 604.4V627.5Q500 633.5 509.6 634Q520 633.5 523.5 627.5V604.4"/>
<ellipse class="w t" cx="509.6" cy="604.4" rx="13.2" ry="7.4"/>
<ellipse class="l" cx="509.6" cy="604.8" rx="10" ry="5.4"/>
</g>
<g id="clutch11">
<!-- lower pulley -->
<path class="w" d="M476.2 716V731Q479 737.5 487.5 740.5Q498 744.6 509.4 744.6Q522 744.6 532.5 739Q540 735 542 728V716"/>
<path class="l" d="M479 727Q484 734.5 495 737Q505 739.5 517 738.5Q530 736.5 538.5 728"/>
<!-- body -->
<path class="w" d="M468.7 685L468 705Q469 710 471.2 713.7Q475 719 480 722.5Q486 726.5 492.5 728.7Q502 731.5 512 731.5Q524 731 534 727.5Q539.5 725.5 542.5 722.5Q546 718.5 547.5 712.5V690Z"/>
<path class="l t" d="M470.5 700Q472 712 484 719.5Q495 725.5 510 726Q528 725.5 540 717Q546 712 547 704"/>
<path class="l" d="M476 694Q476.5 708 488 715Q498 720.5 512 720.5"/>
<path class="l t" d="M505 728Q512 722 522 719.5Q535 716 542 707"/>
<path class="l" d="M500 722Q515 722.5 528 717.5Q538 712.5 542.5 703"/>
<path class="l" d="M480 700Q482 711 492 716.5"/>
<!-- left tab -->
<path class="w" d="M468.7 685L471.9 681.9L476.9 691.2L472.5 693.7Z"/>
<!-- right bracket -->
<path class="w" d="M547.5 696.2L558.7 692.5L559.4 698.7L548 705Z"/>
<path class="k" d="M549.5 693.5Q552 691 555.5 692L556 695.5L550.5 697.5Z"/>
<!-- triangle plate -->
<path class="w" d="M470.6 668.7Q471.5 665.5 477.5 665L557.5 678Q560 680 558.7 683.7L559.4 687.5L502.5 721.2L492.5 717.5L470.6 671Z"/>
<path class="l" d="M470.6 668.7L492.8 716.5M473.8 669.8L495.5 714.8M502.5 717.5L558.7 683.7M497.5 717.5L502.5 717.5V721.2"/>
<ellipse class="l" cx="478" cy="669.4" rx="5" ry="3"/>
<ellipse class="l" cx="553" cy="680.6" rx="5" ry="3"/>
<path class="l" d="M473 669.8V671Q475 673.5 478 673.6Q481.5 673.5 483 671V669.8M548 681V682.3Q550 684.8 553 684.9Q556.5 684.8 558 682.3V681"/>
<ellipse class="l" cx="509.4" cy="687.5" rx="18" ry="10.6"/>
<ellipse class="l t" cx="509.4" cy="687.8" rx="7.4" ry="4.3"/>
<path class="l h" d="M510.5 691Q512 689 515.5 689"/>
<!-- front bolt -->
<path class="k" d="M494.6 713H501.8V729.5Q498 731 494.6 729.5Z"/>
<path d="M498.2 717V727" stroke="#fff" stroke-width="0.6" stroke-dasharray="1.2 2"/>
<ellipse class="w" cx="498" cy="711.2" rx="4.5" ry="3"/>
</g>
<g id="washers">
<ellipse class="w" cx="509.3" cy="761" rx="10.5" ry="5.5"/>
<ellipse class="w" cx="509.3" cy="758.7" rx="10.5" ry="5.5"/>
<ellipse class="l" cx="509.3" cy="758.7" rx="4" ry="2.1"/>
<ellipse class="l h" cx="509.3" cy="759.2" rx="2.4" ry="1.2"/>
<ellipse class="w t" cx="509.3" cy="785.8" rx="9.3" ry="5.3"/>
<ellipse class="w t" cx="509.3" cy="784.2" rx="9.3" ry="5.3"/>
<ellipse class="l t" cx="509.3" cy="784.4" rx="3.8" ry="2"/>
</g>
<g id="bolt85">
<path class="w" d="M506 806.5Q509.3 804.8 512.6 806.5V862H506Z"/>
<path class="l" style="stroke-width:1.2" d="M506 809.5H512.6M506 813H512.6M506 816.5H512.6M506 820H512.6M506 823.5H512.6M506 827H512.6M506 830.5H512.6M506 834H512.6M506 837.5H512.6M506 841H512.6M506 844.5H512.6M506 848H512.6M506 851.5H512.6"/>
<path class="w" d="M502.4 863.5Q502.4 861 509.6 860.8Q517 861 517 863.5V868.5L513.3 871.3H506.1L502.4 868.5Z"/>
<path class="l" d="M502.4 863.5L506.1 866.2H513.3L517 863.5M506.1 866.2V871.3M513.3 866.2V871.3"/>
</g>

<!-- 60_exhaust.svg -->
<defs>
<g id="gk">
<path class="w" style="stroke-width:1.5" d="M-9.5 -9.9Q-7.1 -13.8 -3.1 -11.5L11.4 -3.2Q15.4 -0.9 13.1 3.1L7.2 13.2Q4.9 17.2 1.1 14.7L-13.3 5.2Q-17.1 2.7 -14.7 -1.2Z"/>
<path class="w" style="stroke-width:1.8" d="M-9.5 -11.5Q-7.1 -15.4 -3.1 -13.1L11.4 -4.8Q15.4 -2.5 13.1 1.5L7.2 11.6Q4.9 15.6 1.1 13.1L-13.3 3.6Q-17.1 1.1 -14.7 -2.8Z"/>
<ellipse class="l" style="stroke-width:1.6" cx="0" cy="0" rx="10.6" ry="6.2" transform="rotate(3)"/>
<ellipse class="l" cx="-4.3" cy="-10.3" rx="3" ry="1.9"/>
<ellipse class="l" cx="3.6" cy="9.6" rx="3" ry="1.9"/>
<path class="l h" d="M-6.8 -9.8Q-4.3 -11.3 -1.8 -9.8M1.1 10.1Q3.6 8.6 6.1 10.1M-5 -4.5Q-1 -6 4 -5"/>
</g>
</defs>
<g id="pipe70">
<path class="w" d="M682.7 695V724.4Q684 730 686.9 731.9Q690 735.5 694.4 736.6Q699 738 703.7 737.1L741.2 721.6Q744 720.5 746 721.6Q747.8 723 747.8 725.3V743Q750 748.5 758.5 748.7Q767 748.5 769.4 743V708Q768 700.5 762.8 698.5Q758 696.5 750.6 698.1L709.4 714.6Q706 714 705.6 711.2L704.7 695Z"/>
<path class="l" d="M747.8 742.2Q750 746.5 758.5 746.8Q767 746.5 769.4 742.2"/>
</g>
<g id="pipe71">
<path class="w" d="M762.8 680V707.5Q764 714 767.5 716.9Q771 720.5 776.9 721.6Q780 722 782.5 721L821.9 705.2Q824.5 704.5 826 706Q827.1 707.5 827.1 710.3V726.2Q829 732.5 838.4 732.8Q848 732.5 849.6 726.2L849.1 694.4Q848 688.5 845.3 685.9Q842 682 836.9 681.6Q833 681.2 829.4 682.2L788.1 698.1Q785 697.5 784.7 694.4L784.4 680Z"/>
<path class="l" d="M827.1 725.5Q829 730.3 838.4 730.6Q848 730.3 849.6 725.5"/>
</g>
<use href="#gk" x="693.1" y="693.1"/>
<use href="#gk" x="772.5" y="677.3"/>
<use href="#gk" x="693.1" y="656.9"/>
<use href="#gk" x="772.3" y="640.6"/>
<g id="bolt79">
<path class="w" d="M695.9 763Q698.7 761.2 701.5 763V783.5H695.9Z"/>
<path class="l" style="stroke-width:1.3;stroke:#222" d="M696.2 765.5H701.2M696.2 768.2H701.2M696.2 771H701.2M696.2 773.7H701.2M696.2 776.5H701.2"/>
<path class="k" d="M697.4 769H700V774H697.4Z"/>
<path class="w" d="M692.1 785.3Q692.1 782.8 698.7 782.6Q705.3 782.8 705.3 785.3V790L702 792.8H695.4L692.1 790Z"/>
<path class="l" d="M692.1 785.3L695.4 788H702L705.3 785.3M695.4 788V792.8M702 788V792.8"/>
</g>
<g id="muffler2">
<!-- lower body -->
<path class="w" d="M734.8 812V833Q736.5 838 741.9 841L816.9 881.5Q823 885 829.4 885.5Q834 885.6 838.7 884L859 872Q863 868.5 863.7 864.4V840Z"/>
<!-- flange -->
<path class="w" style="stroke:none" d="M731 803Q728.5 806 730 809.5L734 814L807.5 856.5Q818 861.5 829.4 862.8Q838 863 845 860.5L866.9 847.2L868.4 842.5L867.7 836L863.7 834L734 801Z"/>
<path class="l" d="M734 801.5Q731.5 802 731 803Q728.5 806 730 809.5Q731.5 812.5 734 813.6"/>
<path class="l" d="M734 813.6L807.5 856.5Q818 861.5 829.4 862.8Q838 863 845 860.5L866.9 847.2Q868.6 845 868.4 842.5L867.7 836.2"/>
<path class="l" d="M734.5 816L807.5 858.8Q818 863.8 829.4 865.1Q838 865.3 845 862.8L865 850.5"/>
<!-- top body -->
<path class="w" style="stroke:none" d="M733.7 800V778.7Q735 772 739.4 769.4L754.4 760Q760 758 767.5 758.1Q773 758 776.9 759.6L855 802.5Q863 808 863.7 815V836L845 852L829 854.5L809 849L734 803Z"/>
<path class="l" d="M733.9 802V778.7Q735 772 739.4 769.4L754.4 760Q760 758 767.5 758.1Q773 758 776.9 759.6L855 802.5Q863 808 863.7 815V835"/>
<path class="l" d="M733.9 786Q736 791 742 794L807.5 828.4Q817 833 826.2 834Q833 834.5 838.7 833L857.5 823.7Q863 819.5 863.7 814.4"/>
<path class="l" d="M731 803L766.9 824.5L809 849Q819 853.5 829.4 854.5Q838 854.5 845 852L863 841.5L867.7 836.2"/>
<!-- heat shield -->
<path class="l" d="M759.5 795L797.5 772.5L840 796L801 818.7Z"/>
<path class="l t" d="M759.5 795L801 818.7L840 796"/>
<!-- ports -->
<g class="l">
<ellipse cx="759.6" cy="771.5" rx="9.6" ry="5.6"/><ellipse cx="759.6" cy="772.3" rx="6.8" ry="3.8"/>
<path d="M750 771.5V774.5Q753 779.5 759.6 779.8Q766.5 779.5 769.2 774.5V771.5"/>
<path class="h" style="stroke-dasharray:2 2" d="M748 775.5Q751 782 759.6 782.5Q768 782 771 775.5"/>
<ellipse cx="838" cy="815.5" rx="9.6" ry="5.6"/><ellipse cx="838" cy="816.3" rx="6.8" ry="3.8"/>
<path d="M828.4 815.5V818.5Q831.4 823.5 838 823.8Q845 823.5 847.6 818.5V815.5"/>
<path class="h" style="stroke-dasharray:2 2" d="M826.4 819.5Q829.4 826 838 826.5Q846.4 826 849.4 819.5"/>
</g>
<!-- bracket -->
<path class="w" d="M801.2 761.9L810.6 755.3L852.8 778.7L841.6 787.2V795.5L801.2 771.2Z"/>
<path class="l t" d="M801.2 771.2L841.6 795.5"/>
<path class="l" d="M801.2 762.5L841.6 787.2"/>
<path class="l t" style="stroke-dasharray:8 3.5;stroke-linecap:butt" d="M804 768L838 787.5"/>
<circle class="l" cx="812.9" cy="762.2" r="2.2"/><circle class="k" cx="812.9" cy="762.4" r="1.1"/>
<circle class="l" cx="841" cy="778.7" r="2.2"/><circle class="k" cx="841" cy="778.9" r="1.1"/>
</g>

<!-- 61_rod9.svg -->
<g id="rod9">
<path id="rodp" d="M444 882L499 914.5Q505 918.5 505 926V953Q505 959 509 964.5L514 971.5Q517 975.5 523 976.3L547 979.8Q552 980.3 557 977.5L606 948.5Q610 945 604 943L574 935Q563.7 932 563.7 922V891.5" fill="none" stroke="#000" stroke-width="6.6" stroke-linecap="butt" stroke-linejoin="round"/>
<path d="M444 882L499 914.5Q505 918.5 505 926V953Q505 959 509 964.5L514 971.5Q517 975.5 523 976.3L547 979.8Q552 980.3 557 977.5L606 948.5Q610 945 604 943L574 935Q563.7 932 563.7 922V891" fill="none" stroke="#fff" stroke-width="4" stroke-linecap="butt" stroke-linejoin="round"/>
<ellipse class="w" cx="563.7" cy="891.3" rx="3.2" ry="1.8"/>
<ellipse class="w" cx="435.3" cy="885.2" rx="10.3" ry="7.6"/>
<ellipse class="l" cx="436.2" cy="885.6" rx="3.6" ry="1.4"/>
<path d="M443.2 879.6L448 882.3L445.4 887.6L443 886.5Z" fill="#fff"/>
<path class="l" d="M437 877.7Q441 877.8 446.5 881.1M439.8 885.6Q444 886 445.5 888.7"/>
</g>
<g id="bolt90">
<path class="w" d="M433 933.5Q436.2 931.8 439.5 933.5V955H433Z"/>
<path class="l" style="stroke-width:1.2;stroke:#333" d="M433.2 936H439.2M433.2 938.7H439.2M433.2 941.5H439.2M433.2 944.2H439.2M433.2 947H439.2M433.2 949.7H439.2"/>
<path class="w" d="M429.5 956.7Q429.5 954.2 436.2 954Q443 954.2 443 956.7V961.7L439.6 964.5H432.9L429.5 961.7Z"/>
<path class="l" d="M429.5 956.7L432.9 959.4H439.6L443 956.7M432.9 959.4V964.5M439.6 959.4V964.5"/>
</g>

<!-- 80_centerlines.svg -->
<g class="l h" id="centerlines" style="stroke-linecap:butt;stroke-width:1">
<path d="M636.6 339V426M636.6 428.5V432M636.5 435V507.5M636.4 510V512.5M636.3 514V526.5"/>
<path d="M683.7 313.5V320M683.7 322.5V357"/>
<path d="M710.5 310V318M710.5 322V354.5"/>
<path d="M843.6 242V266M843.6 270V277.5M843.6 282.5V292.5"/>
<path d="M842.6 375V405M842.4 410V417M842 422V432.5M841.4 471V487M841.4 551V585M841.4 590V634M841.4 637.5V681.5M841.4 740V772"/>
<path d="M697.2 638V705M697.2 710V734M697.2 741V758"/>
<path d="M509.6 590V608M509.6 654.5V688.5M509.6 745V756M509.6 764.5V780M509.6 790.5V805.5"/>
<path d="M563.7 566.2L533.7 579.5M528.7 581.7L509.6 590"/>
<path d="M436.2 893.7V900M436.2 903.7V931"/>
<path d="M165.6 185.6V217M165.6 219.5V235"/>
<path d="M255.7 354V359.5"/>
</g>

<!-- 90_labels.svg -->
<g class="l" id="leaders" style="stroke-width:1.25">
<path d="M487.8 84.4L547.5 103.5"/>
<path d="M185.5 152.5L171.2 167.5"/>
<path d="M233.7 165L218.7 181.2"/>
<path d="M404.2 203L370 242"/>
<path d="M483.7 248L456.2 280"/>
<path d="M262.5 310.5L281 317.5"/>
<path d="M142 359.5L131 383.7"/>
<path d="M848 228.7L872.5 233.7"/>
<path d="M744.5 354.5L716 368.7"/>
<path d="M662 376L675 369"/>
<path d="M872.5 362.5L891 368.7"/>
<path d="M232.5 499.5L223.7 516"/>
<path d="M396.9 608.7L414.7 615.6"/>
<path d="M337.5 652.5L357.5 659.5"/>
<path d="M280 712.5L294.5 717"/>
<path d="M541 628.7L562.5 635.5"/>
<path d="M561 701L583.7 708.7"/>
<path d="M771.2 600.5L705 647.5"/>
<path d="M763.7 606.2L761.2 627.5"/>
<path d="M656 705.5L680 713"/>
<path d="M849.5 705L871 712"/>
<path d="M521 760L551 771"/>
<path d="M518.7 787.5L543.7 796"/>
<path d="M445.5 825L505 843.7"/>
<path d="M673.7 771L687.5 775"/>
<path d="M865.5 823.7L886 829"/>
<path d="M404.5 870L426 880.5"/>
<path d="M445 957L462.5 949.5"/>
<path d="M248.4 917.2L235.6 937.2"/>
</g>
<g style="opacity:0.999"><rect class="l" x="78.1" y="937.2" width="267.2" height="41.8" style="stroke-width:1.2"/>
<text transform="translate(93.6 962.4) scale(1.0597 1)" style='font-family:"Liberation Sans",sans-serif;font-size:20.5px;fill:#000;stroke:#000;stroke-width:0.55'>SPARK ARRESTER KIT</text>
<text transform="translate(750 960) scale(1.0889 1)" style='font-family:"Liberation Sans",sans-serif;font-size:14.6px;fill:#1a1a1a'>engine-tex_Kohl_3_r2</text>
</g>

<!-- 91_numbers.svg -->
<g class="n" id="numbers" style="opacity:0.999">
<text transform="translate(474.00 89.10) scale(1.130 1)">1</text>
<text transform="translate(187.50 152.70) scale(1.130 1)">21</text>
<text transform="translate(227.50 160.70) scale(1.130 1)">20</text>
<text transform="translate(353.50 261.20) scale(1.130 1)">81</text>
<text transform="translate(442.00 298.70) scale(1.130 1)">82</text>
<text transform="translate(283.20 329.30) scale(1.130 1)">22</text>
<text transform="translate(129.50 355.20) scale(1.130 1)">18</text>
<text transform="translate(875.20 242.70) scale(1.130 1)">87</text>
<text transform="translate(745.50 357.20) scale(1.130 1)">84</text>
<text transform="translate(638.00 395.50) scale(1.130 1)">45</text>
<text transform="translate(897.50 378.70) scale(1.130 1)">62</text>
<text transform="translate(223.40 496.90) scale(1.130 1)">15</text>
<text transform="translate(414.00 624.10) scale(1.130 1)">37</text>
<text transform="translate(364.00 668.70) scale(1.130 1)">28</text>
<text transform="translate(302.00 729.70) scale(1.130 1)">37</text>
<text transform="translate(571.00 643.70) scale(1.130 1)">12</text>
<text transform="translate(589.50 719.20) scale(1.130 1)">11</text>
<text transform="translate(775.50 602.70) scale(1.130 1)">69</text>
<text transform="translate(627.50 710.20) scale(1.130 1)">70</text>
<text transform="translate(875.50 722.70) scale(1.130 1)">71</text>
<text transform="translate(552.00 781.70) scale(1.130 1)">41</text>
<text transform="translate(542.00 805.70) scale(1.130 1)">42</text>
<text transform="translate(417.00 831.40) scale(1.130 1)">85</text>
<text transform="translate(647.00 778.70) scale(1.130 1)">79</text>
<text transform="translate(887.00 838.70) scale(1.130 1)">2</text>
<text transform="translate(389.00 875.70) scale(1.130 1)">9</text>
<text transform="translate(462.00 949.70) scale(1.130 1)">90</text>
<text transform="translate(236.40 910.90) scale(1.130 1)">29</text>
</g>

</svg>
</body></html>
